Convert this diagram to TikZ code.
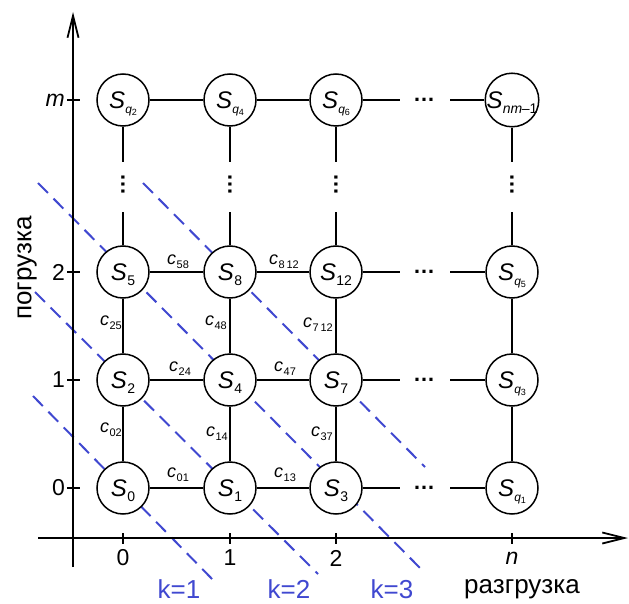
\documentclass[tikz,border=0pt]{standalone}
\usepackage{fontspec}
\setmainfont{Liberation Sans}
\usetikzlibrary{arrows.meta,backgrounds,calc}
\definecolor{kblue}{RGB}{64,72,208}
\newcommand{\Snd}[1]{\fontsize{24}{24}\selectfont\textit{S}\kern0.3pt\smash{\raisebox{-5pt}{\fontsize{14}{14}\selectfont #1}}}
\newcommand{\Sqq}[1]{\fontsize{24}{24}\selectfont\textit{S}\kern0.3pt\smash{\raisebox{-5pt}{\fontsize{12}{12}\selectfont\textit{q}\raisebox{-2pt}{\fontsize{9}{9}\selectfont #1}}}}
\newcommand{\clab}[1]{\fontsize{18}{18}\selectfont\textit{c}\kern0.5pt\smash{\raisebox{-4pt}{\fontsize{11}{11}\selectfont #1}}}
\tikzset{
  st/.style={circle,draw,line width=1.5pt,minimum size=52pt,inner sep=0pt,fill=white},
  edg/.style={line width=1.5pt},
  kline/.style={kblue,line width=2pt,dash pattern=on 14pt off 8pt},
  axis/.style={line width=1.8pt,-{Straight Barb[length=22pt,width=11pt,line width=1.8pt]}},
  tck/.style={line width=1.6pt},
  hl/.style={inner sep=0pt,anchor=center},
  vl/.style={inner sep=0pt,anchor=east},
  hdots/.style={inner sep=0pt,font=\fontsize{22}{22}\selectfont\bfseries},
  vdots/.style={inner sep=0pt,rotate=90,font=\fontsize{22}{22}\selectfont\bfseries},
  axlab/.style={inner sep=0pt,font=\fontsize{23}{23}\selectfont},
  klab/.style={inner sep=0pt,text=kblue,font=\fontsize{26}{26}\selectfont},
  word/.style={inner sep=0pt,font=\fontsize{26}{26}\selectfont}
}
\begin{document}
\begin{tikzpicture}[x=1pt,y=-1pt]
\useasboundingbox (0,0) rectangle (629,604);
% axes
\coordinate (xa0) at (38,538);
\coordinate (xa1) at (628,538);
\coordinate (ya0) at (73,567);
\coordinate (ya1) at (73,12);
\draw[axis] (xa0) -- (xa1);
\draw[axis] (ya0) -- (ya1);
% states
\node[st] (S0) at (123,488) {\Snd{0}};
\node[st] (S1) at (230,488) {\Snd{1}};
\node[st] (S3) at (336,488) {\Snd{3}};
\node[st] (Sq1) at (512,488) {\Sqq{1}};
\node[st] (S2) at (123,380) {\Snd{2}};
\node[st] (S4) at (230,380) {\Snd{4}};
\node[st] (S7) at (336,380) {\Snd{7}};
\node[st] (Sq3) at (512,380) {\Sqq{3}};
\node[st] (S5) at (123,272) {\Snd{5}};
\node[st] (S8) at (230,272) {\Snd{8}};
\node[st] (S12) at (336,272) {\Snd{12}};
\node[st] (Sq5) at (512,272) {\Sqq{5}};
\node[st] (Sq2) at (123,100) {\Sqq{2}};
\node[st] (Sq4) at (230,100) {\Sqq{4}};
\node[st] (Sq6) at (336,100) {\Sqq{6}};
\node[st] (Snm) at (512,100) {\Snd{\textit{nm}\kern-0.5pt--1}};
% horizontal edges
\draw[edg] (S0) -- (S1); \draw[edg] (S1) -- (S3);
\draw[edg] (S2) -- (S4); \draw[edg] (S4) -- (S7);
\draw[edg] (S5) -- (S8); \draw[edg] (S8) -- (S12);
\draw[edg] (Sq2) -- (Sq4); \draw[edg] (Sq4) -- (Sq6);
% vertical edges
\draw[edg] (S0) -- (S2); \draw[edg] (S2) -- (S5);
\draw[edg] (S1) -- (S4); \draw[edg] (S4) -- (S8);
\draw[edg] (S3) -- (S7); \draw[edg] (S7) -- (S12);
\draw[edg] (Sq1) -- (Sq3); \draw[edg] (Sq3) -- (Sq5);
% horizontal gaps with dots
\foreach \a/\b/\r/\n in {S3/Sq1/488/0,S7/Sq3/380/1,S12/Sq5/272/2,Sq6/Snm/100/m}{
  \coordinate (hl\n) at (400,\r);
  \coordinate (hr\n) at (450,\r);
  \node[hdots] (hd\n) at (424,\r) {…};
  \draw[edg] (\a) -- (hl\n);
  \draw[edg] (hr\n) -- (\b);
}
% vertical gaps with dots
\foreach \a/\b/\c/\n in {S5/Sq2/123/0,S8/Sq4/230/1,S12/Sq6/336/2,Sq5/Snm/512/n}{
  \coordinate (vb\n) at (\c,212);
  \coordinate (vt\n) at (\c,162);
  \node[vdots] (vd\n) at (\c,185) {…};
  \draw[edg] (\a) -- (vb\n);
  \draw[edg] (vt\n) -- (\b);
}
% edge labels
\node[hl] (c01) at (178,473) {\clab{01}};
\node[hl] (c13) at (285,473) {\clab{13}};
\node[hl] (c24) at (180,367) {\clab{24}};
\node[hl] (c47) at (285,367) {\clab{47}};
\node[hl] (c58) at (178,260) {\clab{58}};
\node[hl] (c812) at (284,260) {\clab{8\,12}};
\node[vl] (c02) at (122,428) {\clab{02}};
\node[vl] (c14) at (228,432) {\clab{14}};
\node[vl] (c37) at (333,432) {\clab{37}};
\node[vl] (c25) at (122,321) {\clab{25}};
\node[vl] (c48) at (227,321) {\clab{48}};
\node[vl] (c712) at (333,323) {\clab{7\,12}};
% ticks and tick labels
\foreach \c/\t/\n in {123/0/a,230/1/b,336/2/c,512/\textit{n}/d}{
  \draw[tck] (\c,533) -- (\c,544);
  \node[axlab] (xl\n) at (\c,558) {\t};
}
\foreach \r/\t/\n in {488/0/a,380/1/b,272/2/c,100/\textit{m}/d}{
  \draw[tck] (67,\r) -- (80,\r);
  \node[axlab,anchor=east] (yl\n) at (65,\r) {\t};
}
\node[word] (unload) at (522,589) {разгрузка};
\node[word,rotate=90] (load) at (27,268) {погрузка};
\node[klab] (k1) at (179,589) {k=1};
\node[klab] (k2) at (289,589) {k=2};
\node[klab] (k3) at (392,589) {k=3};
% diagonal dashed lines
\begin{pgfonlayer}{background}
\draw[kline] ($(S0)+(-90,-92)$) -- ($(S0)+(92,94)$);
\draw[kline] ($(S2)+(-88,-88)$) -- ($(S1)+(88,86)$);
\draw[kline] ($(S5)+(-85,-89)$) -- ($(S3)+(89,85)$);
\draw[kline] ($(S8)+(-87,-89)$) -- ($(S7)+(89,87)$);
\end{pgfonlayer}
\end{tikzpicture}
\end{document}
